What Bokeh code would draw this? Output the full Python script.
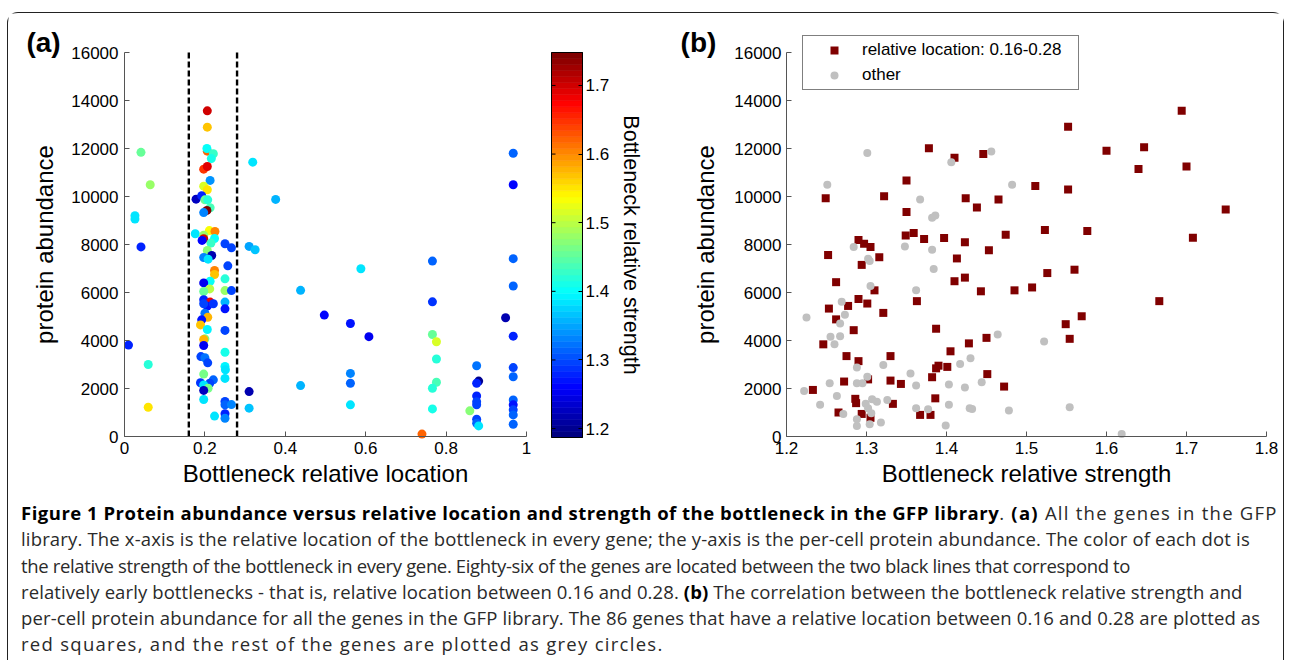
import numpy as np
from bokeh.plotting import figure
from bokeh.models import (Range1d, LinearColorMapper, FixedTicker, CustomJSTickFormatter,
                          Label, Div, ColumnDataSource)
from bokeh.layouts import row, column
from bokeh.embed import file_html
from bokeh.resources import INLINE

# ---------------- data ----------------
# panel (a): bottleneck relative location, protein abundance, relative strength (colour)
loc_a = [0.010, 0.041, 0.064, 0.026, 0.026, 0.041, 0.059, 0.059,
         0.319, 0.376, 0.310, 0.325, 0.310, 0.310, 0.438, 0.438, 0.497, 0.562, 0.562, 0.562,
         0.562, 0.588, 0.608, 0.740, 0.766, 0.766, 0.766, 0.776, 0.776, 0.776, 0.766, 0.766,
         0.859, 0.876, 0.881, 0.876, 0.876, 0.876, 0.876, 0.876, 0.876, 0.881, 0.948, 0.967,
         0.967, 0.967, 0.967, 0.967, 0.967, 0.967, 0.967, 0.967, 0.967, 0.967, 0.967,
         0.206, 0.206, 0.206, 0.205, 0.221, 0.216, 0.197, 0.206, 0.213, 0.197, 0.206, 0.178,
         0.192, 0.200, 0.207, 0.213, 0.205, 0.197, 0.176, 0.211, 0.225, 0.197, 0.197, 0.193,
         0.224, 0.215, 0.250, 0.266, 0.206, 0.217, 0.197, 0.208, 0.257, 0.224, 0.224, 0.250,
         0.213, 0.197, 0.212, 0.197, 0.250, 0.266, 0.197, 0.213, 0.206, 0.221, 0.197, 0.250,
         0.200, 0.250, 0.207, 0.192, 0.189, 0.206, 0.250, 0.200, 0.197, 0.197, 0.250, 0.190,
         0.200, 0.207, 0.250, 0.251, 0.197, 0.250, 0.221, 0.212, 0.189, 0.197, 0.208, 0.197,
         0.197, 0.250, 0.250, 0.266, 0.224, 0.250, 0.250]
abund_a = [3810, 11840, 10490, 9200, 9060, 7900, 3000, 1220,
           11430, 9880, 7920, 7780, 1870, 1180, 6090, 2120, 5060, 4710, 2630, 2220,
           1320, 6990, 4160, 100, 7310, 5610, 4250, 3950, 3230, 2260, 2010, 1150,
           1070, 2950, 2310, 2220, 1690, 1450, 1320, 720, 550, 440, 4950, 11800,
           10490, 7410, 6270, 4180, 2870, 2490, 1520, 1320, 1110, 900, 510,
           13570, 12890, 11890, 12000, 11780, 11580, 11140, 11250, 10670, 10430, 10280, 9890,
           10030, 9860, 9860, 9530, 9420, 9330, 8450, 8580, 8540, 8390, 8240, 8170,
           8250, 8060, 8030, 7860, 7750, 7540, 7460, 7390, 7110, 6920, 6750, 6570,
           6470, 6400, 6150, 6040, 6080, 6080, 5700, 5600, 5430, 5530, 5530, 5600,
           5140, 5320, 4970, 4860, 4650, 4460, 4420, 4070, 4040, 3790, 3510, 3330,
           3280, 3070, 2920, 2780, 2600, 2420, 2360, 2220, 2240, 2150, 2010, 1920,
           1540, 1460, 1320, 1330, 850, 950, 760]
strength_a = [1.28, 1.45, 1.48, 1.38, 1.38, 1.28, 1.42, 1.55,
              1.38, 1.36, 1.35, 1.37, 1.22, 1.37, 1.36, 1.36, 1.26, 1.27, 1.33, 1.31,
              1.38, 1.38, 1.25, 1.62, 1.31, 1.29, 1.45, 1.52, 1.42, 1.44, 1.42, 1.41,
              1.47, 1.32, 1.20, 1.28, 1.28, 1.30, 1.30, 1.30, 1.31, 1.38, 1.22, 1.31,
              1.26, 1.31, 1.31, 1.28, 1.30, 1.31, 1.31, 1.27, 1.30, 1.31, 1.31,
              1.70, 1.57, 1.62, 1.40, 1.43, 1.41, 1.65, 1.69, 1.34, 1.52, 1.55, 1.23,
              1.28, 1.45, 1.42, 1.44, 1.74, 1.33, 1.38, 1.53, 1.60, 1.48, 1.70, 1.26,
              1.40, 1.43, 1.30, 1.30, 1.47, 1.22, 1.33, 1.38, 1.30, 1.60, 1.57, 1.42,
              1.40, 1.25, 1.50, 1.45, 1.48, 1.30, 1.28, 1.68, 1.27, 1.29, 1.30, 1.36,
              1.32, 1.27, 1.58, 1.27, 1.57, 1.39, 1.30, 1.46, 1.58, 1.25, 1.41, 1.30,
              1.32, 1.30, 1.39, 1.38, 1.46, 1.38, 1.31, 1.30, 1.29, 1.38, 1.46, 1.23,
              1.38, 1.30, 1.31, 1.33, 1.38, 1.28, 1.33]

# panel (b): genes with relative location 0.16-0.28 (red squares)
strength_in = [1.694, 1.552, 1.378, 1.647, 1.600, 1.446, 1.410, 1.700, 1.640, 1.350,
               1.511, 1.552, 1.249, 1.322, 1.424, 1.465, 1.438, 1.749, 1.350, 1.523,
               1.576, 1.359, 1.349, 1.474, 1.290, 1.372, 1.397, 1.708, 1.297, 1.305,
               1.423, 1.252, 1.316, 1.453, 1.413, 1.294, 1.560, 1.526, 1.423, 1.262,
               1.410, 1.310, 1.443, 1.485, 1.507, 1.666, 1.290, 1.363, 1.277, 1.301,
               1.253, 1.321, 1.569, 1.549, 1.262, 1.284, 1.387, 1.554, 1.450, 1.246,
               1.428, 1.405, 1.275, 1.330, 1.290, 1.390, 1.387, 1.401, 1.451, 1.382,
               1.302, 1.330, 1.272, 1.343, 1.472, 1.233, 1.286, 1.386, 1.287, 1.333,
               1.265, 1.294, 1.367, 1.380, 1.305]
abund_in = [13570, 12910, 12010, 12050, 11910, 11770, 11610, 11250, 11150, 10670,
            10440, 10290, 9930, 10010, 9930, 9880, 9540, 9460, 9350, 8600,
            8560, 8480, 8370, 8410, 8190, 8230, 8270, 8280, 8030, 7900,
            8090, 7560, 7470, 7760, 7420, 7150, 6950, 6810, 6620, 6430,
            6470, 6090, 6050, 6090, 6210, 5640, 5730, 5640, 5440, 5540,
            5330, 5150, 5010, 4680, 4880, 4430, 4490, 4070, 4110, 3840,
            3880, 3550, 3350, 3350, 3140, 2950, 2840, 2900, 2600, 2470,
            2380, 2330, 2290, 2190, 2080, 1940, 1570, 1590, 1390, 1360,
            1000, 940, 900, 900, 780]
# panel (b): all other genes (grey circles)
strength_out = [1.301, 1.456, 1.406, 1.251, 1.482, 1.367, 1.386, 1.382, 1.284, 1.348,
                1.382, 1.302, 1.304, 1.384, 1.305, 1.362, 1.269, 1.225, 1.273, 1.267,
                1.255, 1.267, 1.260, 1.464, 1.522, 1.430, 1.417, 1.321, 1.288, 1.355,
                1.301, 1.254, 1.288, 1.295, 1.444, 1.362, 1.403, 1.423, 1.222, 1.263,
                1.326, 1.307, 1.313, 1.299, 1.242, 1.403, 1.554, 1.362, 1.377, 1.429,
                1.432, 1.478, 1.302, 1.306, 1.271, 1.288, 1.318, 1.304, 1.288, 1.399,
                1.619]
abund_out = [11810, 11870, 11430, 10490, 10490, 9880, 9210, 9110, 7900, 7920,
             7780, 7410, 7310, 6980, 6270, 6090, 5610, 4960, 5070, 4710,
             4160, 4180, 3840, 4250, 3960, 3260, 3020, 2980, 2870, 2630,
             2490, 2220, 2220, 2220, 2260, 2120, 2170, 2040, 1900, 1690,
             1520, 1550, 1450, 1360, 1320, 1320, 1220, 1180, 1140, 1180,
             1150, 1080, 1180, 970, 940, 720, 580, 510, 440, 460,
             100]

window_bounds = [0.16, 0.28]
loc_lim = [0, 1]
loc_ticks = [0, 0.2, 0.4, 0.6, 0.8, 1]
abund_lim = [0, 16000]
abund_ticks = [0, 2000, 4000, 6000, 8000, 10000, 12000, 14000, 16000]
strength_lim = [1.2, 1.8]
strength_ticks = [1.2, 1.3, 1.4, 1.5, 1.6, 1.7, 1.8]
cbar_ticks = [1.2, 1.3, 1.4, 1.5, 1.6, 1.7]
clim = [1.187, 1.748]

# ---------------- geometry (page pixels) ----------------
FONT = "Liberation Sans"
AXIS_GREY = "#555555"
CANVAS_TOP, CANVAS_BOTTOM = 13, 500
FIG_H = CANVAS_BOTTOM - CANVAS_TOP
AX_TOP, AX_BOTTOM = 52, 436            # 16000 and 0 lines
A_CANVAS = (9, 540)
A_AXIS = (125, 527)                    # relative location 0 .. 1
C_CANVAS = (540, 660)
C_BAR = (552, 583)
C_BAR_Y = (52, 437)
B_CANVAS = (660, 1284)
B_AXIS = (787, 1267)                   # strength 1.2 .. 1.8


def lin_range(lim, ax_px, canvas_px, flip=False):
    """Range so that lim maps onto ax_px inside a canvas spanning canvas_px."""
    per = (lim[1] - lim[0]) / (ax_px[1] - ax_px[0])
    if flip:   # vertical: pixel grows downward
        lo = lim[0] - (canvas_px[1] - ax_px[1]) * per
        hi = lim[1] + (ax_px[0] - canvas_px[0]) * per
    else:
        lo = lim[0] - (ax_px[0] - canvas_px[0]) * per
        hi = lim[1] + (canvas_px[1] - ax_px[1]) * per
    return Range1d(lo, hi), per


def jet(n):
    cols = []
    for i in range(n):
        x = i / (n - 1)
        r = min(max(1.5 - abs(4 * x - 3), 0), 1)
        g = min(max(1.5 - abs(4 * x - 2), 0), 1)
        b = min(max(1.5 - abs(4 * x - 1), 0), 1)
        cols.append("#%02x%02x%02x" % (int(round(r * 255)), int(round(g * 255)), int(round(b * 255))))
    return cols


JET = jet(64)
mapper = LinearColorMapper(palette=JET, low=clim[0], high=clim[1])
fmt = CustomJSTickFormatter(code="return String(Number(tick.toFixed(3)));")


def style_axis(ax, label_standoff, tick_standoff, fixed, bounds, ticks):
    ax.fixed_location = fixed
    ax.bounds = tuple(bounds)
    ax.ticker = FixedTicker(ticks=ticks)
    ax.formatter = fmt
    ax.major_tick_in = 5
    ax.major_tick_out = 0
    ax.minor_tick_line_color = None
    ax.axis_line_color = AXIS_GREY
    ax.major_tick_line_color = AXIS_GREY
    ax.major_label_text_font = FONT
    ax.major_label_text_font_size = "17px"
    ax.major_label_text_color = "black"
    ax.major_label_standoff = tick_standoff
    ax.axis_label_text_font = FONT
    ax.axis_label_text_font_size = "24px"
    ax.axis_label_text_font_style = "normal"
    ax.axis_label_text_color = "black"
    ax.axis_label_standoff = label_standoff


def base_fig(canvas_x, xr, yr, **kw):
    p = figure(width=canvas_x[1] - canvas_x[0], height=FIG_H, x_range=xr, y_range=yr,
               output_backend="svg", toolbar_location=None,
               min_border_left=0, min_border_right=0, min_border_top=0, min_border_bottom=0,
               **kw)
    p.grid.visible = False
    p.outline_line_color = None
    p.background_fill_color = "white"
    p.border_fill_color = "white"
    return p


def tag(p, text, x, y):
    p.add_layout(Label(x=x, y=y, text=text, text_font=FONT, text_font_size="28px",
                       text_font_style="bold", text_align="center", text_baseline="middle",
                       text_color="black"))


ab_range, ab_per = lin_range(abund_lim, (AX_TOP, AX_BOTTOM), (CANVAS_TOP, CANVAS_BOTTOM), flip=True)
ab_range_b, _ = lin_range(abund_lim, (AX_TOP, AX_BOTTOM), (CANVAS_TOP, CANVAS_BOTTOM), flip=True)

# ---------------- panel (a) ----------------
loc_range, loc_per = lin_range(loc_lim, A_AXIS, A_CANVAS)
pa = base_fig(A_CANVAS, loc_range, ab_range)
src_a = ColumnDataSource(dict(loc=loc_a, ab=abund_a, s=strength_a))
pa.scatter("loc", "ab", source=src_a, size=9, marker="circle",
           fill_color={"field": "s", "transform": mapper}, line_color=None)
pa.segment(x0=window_bounds, x1=window_bounds, y0=abund_lim[0], y1=abund_lim[1],
           line_color="black", line_width=2.4, line_dash="6 3")
pa.xaxis.axis_label = "Bottleneck relative location"
pa.yaxis.axis_label = "protein abundance"
style_axis(pa.xaxis[0], 3, 5, abund_lim[0], loc_lim, loc_ticks)
style_axis(pa.yaxis[0], 10, 6, loc_lim[0], abund_lim, abund_ticks)
tag(pa, "(a)", loc_lim[0] - 81 * loc_per, abund_lim[1] + 10 * ab_per)

# ---------------- colour bar ----------------
cx_range, _ = lin_range([0, 1], C_BAR, C_CANVAS)
cy_range, _ = lin_range(clim, C_BAR_Y, (CANVAS_TOP, CANVAS_BOTTOM), flip=True)
pc = base_fig(C_CANVAS, cx_range, cy_range, x_axis_location=None, y_axis_location="right")
edges = np.linspace(clim[0], clim[1], len(JET) + 1)
pc.quad(left=0, right=1, bottom=edges[:-1], top=edges[1:], fill_color=JET, line_color=JET,
        line_width=0.6)
pc.quad(left=0, right=1, bottom=clim[0], top=clim[1], fill_color=None, line_color="black",
        line_width=1)
pc.segment(x0=0, x1=0.13, y0=cbar_ticks, y1=cbar_ticks, line_color="black", line_width=1)
pc.yaxis.axis_label = "Bottleneck relative strength"
rax = pc.yaxis[0]
style_axis(rax, 7, 3, 1, clim, cbar_ticks)
rax.axis_label_text_font_size = "21.5px"
rax.major_tick_in = 4
rax.axis_line_color = "black"
rax.major_tick_line_color = "black"

# ---------------- panel (b) ----------------
s_range, s_per = lin_range(strength_lim, B_AXIS, B_CANVAS)
pb = base_fig(B_CANVAS, s_range, ab_range_b)
pb.scatter(strength_in, abund_in, marker="square", size=8, fill_color="#800000",
           line_color=None, legend_label="relative location: 0.16-0.28")
pb.scatter(strength_out, abund_out, marker="circle", size=8, fill_color="#c0c0c0",
           line_color=None, legend_label="other")
pb.xaxis.axis_label = "Bottleneck relative strength"
pb.yaxis.axis_label = "protein abundance"
style_axis(pb.xaxis[0], 3, 5, abund_lim[0], strength_lim, strength_ticks)
style_axis(pb.yaxis[0], 12, 5, strength_lim[0], abund_lim, abund_ticks)
tag(pb, "(b)", strength_lim[0] - 88 * s_per, abund_lim[1] + 10 * ab_per)
lg = pb.legend[0]
lg.location = (803 - B_CANVAS[0], CANVAS_BOTTOM - 90)
lg.margin = 0
lg.padding = 4
lg.spacing = 5
lg.glyph_width = 54
lg.glyph_height = 20
lg.label_height = 20
lg.label_width = 212
lg.label_standoff = 1
lg.border_line_color = "black"
lg.border_line_width = 1
lg.background_fill_alpha = 1
lg.label_text_font = FONT
lg.label_text_font_size = "17px"
lg.label_text_color = "black"

# ---------------- caption ----------------
B = '<b style="color:#000; letter-spacing:0.5px">'


def ls(text, px):
    return '<span style="letter-spacing:%.2fpx">%s</span>' % (px, text)


caption_lines = [
    B + 'Figure 1 Protein abundance versus relative location and strength of the bottleneck in the GFP library</b>'
    + ls('. <b style="color:#000">(a)</b> All the genes in the GFP', 1.25),
    ls('library. The x-axis is the relative location of the bottleneck in every gene; the y-axis is the per-cell protein abundance. The color of each dot is', 0.16),
    ls('the relative strength of the bottleneck in every gene. Eighty-six of the genes are located between the two black lines that correspond to', -0.36),
    ls('relatively early bottlenecks - that is, relative location between 0.16 and 0.28. <b style="color:#000">(b)</b> The correlation between the bottleneck relative strength and', 0.10),
    ls('per-cell protein abundance for all the genes in the GFP library. The 86 genes that have a relative location between 0.16 and 0.28 are plotted as', 0.14),
    ls('red squares, and the rest of the genes are plotted as grey circles.', 1.28),
]
cap_html = ('<div style="font-family:\'Open Sans\'; font-size:18.5px; '
            'line-height:26.3px; color:#2a2a2a; padding-left:13px; height:160px; '
            'overflow:hidden; white-space:nowrap;">' + "<br>".join(caption_lines) + "</div>")
cap = Div(text=cap_html, width=1275, height=160, margin=0)

layout = column(row(pa, pc, pb, spacing=0), cap, spacing=0,
                styles={"border": "1px solid #222", "border-bottom": "none",
                        "border-radius": "11px 11px 0 0", "margin-top": "12px",
                        "margin-left": "7px"})

with open("out.html", "w") as f:
    f.write(file_html(layout, INLINE))
